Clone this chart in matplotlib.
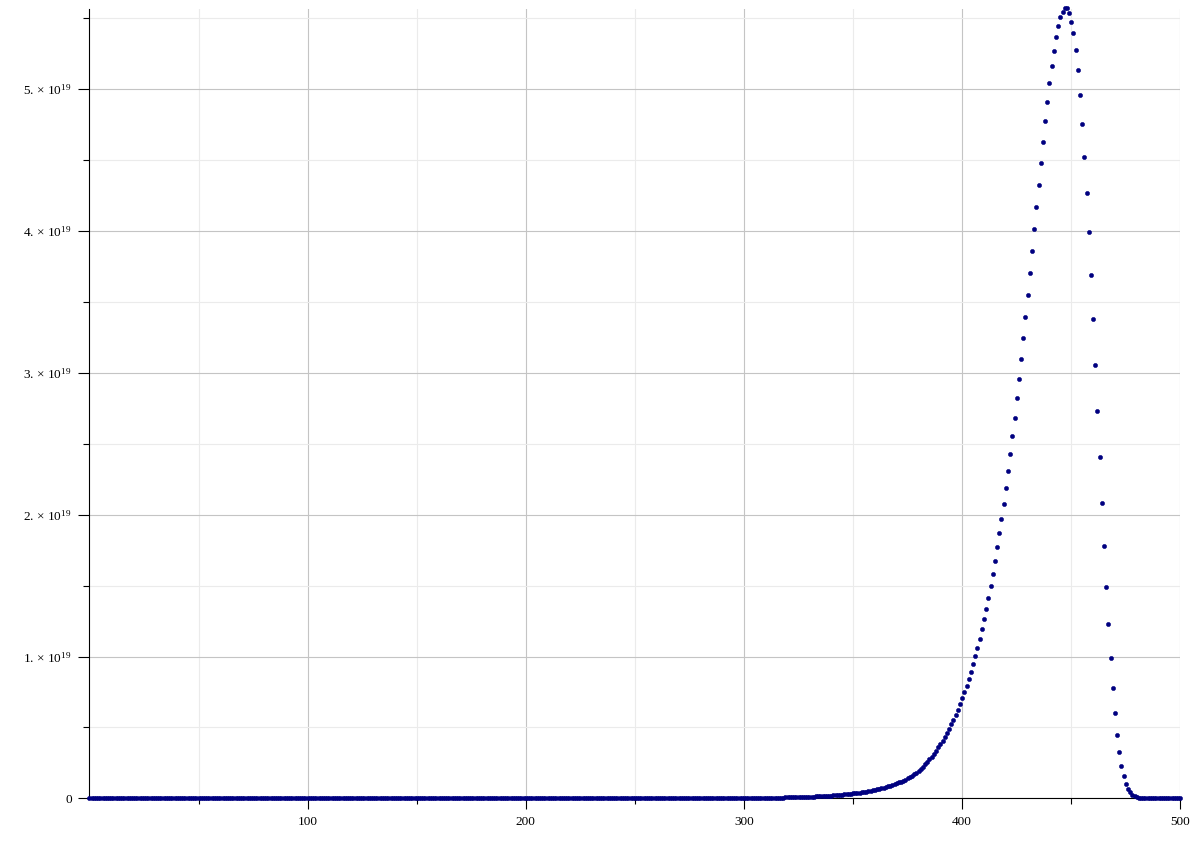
import numpy as np
import matplotlib
matplotlib.use("Agg")
import matplotlib.pyplot as plt

plt.rcParams['font.family'] = ['Liberation Serif', 'DejaVu Serif']
plt.rcParams['mathtext.fontset'] = 'custom'
plt.rcParams['mathtext.rm'] = 'Liberation Serif'
plt.rcParams['mathtext.it'] = 'Liberation Serif:italic'

# ---- data (values in units of 1e19) ----
x_first = 0
zero_count = 290          # x = 0..289 read as zero
tail_values = [
    # 290-299
    0.0012, 0.0012, 0.0013, 0.0014, 0.0014, 0.0015, 0.0016, 0.0017, 0.0018, 0.0019,
    # 300-309
    0.0021, 0.0022, 0.0023, 0.0024, 0.0026, 0.0027, 0.0029, 0.0030, 0.0032, 0.0034,
    # 310-319
    0.0036, 0.0038, 0.0040, 0.0043, 0.0045, 0.0048, 0.0050, 0.0053, 0.0056, 0.0060,
    # 320-329
    0.0063, 0.0067, 0.0071, 0.0075, 0.0079, 0.0084, 0.0089, 0.0094, 0.0099, 0.0105,
    # 330-339
    0.0111, 0.0117, 0.0124, 0.0131, 0.0139, 0.0147, 0.0156, 0.0165, 0.0174, 0.0184,
    # 340-349
    0.0195, 0.0206, 0.0218, 0.0231, 0.0244, 0.0258, 0.0273, 0.0289, 0.0306, 0.0323,
    # 350-359
    0.0342, 0.0362, 0.0383, 0.0405, 0.0429, 0.0454, 0.0480, 0.0508, 0.0537, 0.0568,
    # 360-369
    0.0601, 0.0636, 0.0673, 0.0712, 0.0753, 0.0797, 0.0843, 0.0892, 0.0944, 0.0999,
    # 370-379
    0.1057, 0.1118, 0.1183, 0.1252, 0.1325, 0.1402, 0.1484, 0.1570, 0.1690, 0.1810,
    # 380-389
    0.1950, 0.2090, 0.2230, 0.2400, 0.2580, 0.2750, 0.2930, 0.3150, 0.3360, 0.3600,
    # 390-399
    0.3830, 0.4060, 0.4340, 0.4630, 0.4910, 0.5220, 0.5540, 0.5900, 0.6250, 0.6650,
    # 400-409
    0.7070, 0.7500, 0.7940, 0.8430, 0.8930, 0.9470, 1.0040, 1.0620, 1.1250, 1.1920,
    # 410-419
    1.2640, 1.3370, 1.4150, 1.4950, 1.5800, 1.6720, 1.7700, 1.8690, 1.9700, 2.0780,
    # 420-429
    2.1900, 2.3060, 2.4280, 2.5550, 2.6840, 2.8210, 2.9590, 3.1000, 3.2480, 3.3960,
    # 430-439
    3.5490, 3.7020, 3.8600, 4.0150, 4.1720, 4.3270, 4.4800, 4.6280, 4.7740, 4.9130,
    # 440-449
    5.0420, 5.1620, 5.2700, 5.3670, 5.4440, 5.5080, 5.5470, 5.5710, 5.5710, 5.5360,
    # 450-459
    5.4770, 5.3950, 5.2770, 5.1340, 4.9600, 4.7570, 4.5250, 4.2710, 3.9920, 3.6920,
    # 460-469
    3.3780, 3.0560, 2.7290, 2.4050, 2.0850, 1.7810, 1.4920, 1.2290, 0.9890, 0.7800,
    # 470-479
    0.5990, 0.4490, 0.3270, 0.2300, 0.1570, 0.1030, 0.0680, 0.0420, 0.0250, 0.0140,
    # 480-489
    0.0080, 0.0040, 0.0020, 0.0010, 0.0, 0.0, 0.0, 0.0, 0.0, 0.0,
    # 490-500
    0.0, 0.0, 0.0, 0.0, 0.0, 0.0, 0.0, 0.0, 0.0, 0.0, 0.0,
]
scale = 1e19

x_major_ticks = [100, 200, 300, 400, 500]
x_major_labels = ["100", "200", "300", "400", "500"]
x_minor_ticks = [50, 150, 250, 350, 450]
y_major_ticks = [0, 1, 2, 3, 4, 5]
y_major_labels = ["0", "1. × 10$^{19}$", "2. × 10$^{19}$", "3. × 10$^{19}$",
                  "4. × 10$^{19}$", "5. × 10$^{19}$"]
y_minor_ticks = [0.5, 1.5, 2.5, 3.5, 4.5, 5.5]

values = [0.0] * zero_count + tail_values
x = np.arange(x_first, x_first + len(values))
y = np.array(values) * scale

# ---- figure ----
fig = plt.figure(figsize=(11.96, 8.5), dpi=100)
ax = fig.add_axes([0.0748, 0.0608, 0.9121, 0.9286])

ax.plot(x, y, linestyle='none', marker='o', markersize=3.0,
        color='#000080', markeredgewidth=0.4, markeredgecolor='#000080',
        clip_on=False, zorder=3)

ax.set_xlim(0, 500)
ax.set_ylim(0, 5.566 * scale)

ax.set_xticks(x_major_ticks)
ax.set_xticklabels(x_major_labels)
ax.set_xticks(x_minor_ticks, minor=True)
ax.set_yticks([v * scale for v in y_major_ticks])
ax.set_yticklabels(y_major_labels)
ax.set_yticks([v * scale for v in y_minor_ticks], minor=True)

ax.set_axisbelow(True)
ax.grid(which='major', color='#c4c4c4', linewidth=0.8)
ax.grid(which='minor', color='#ebebeb', linewidth=0.8)

for s in ['top', 'right']:
    ax.spines[s].set_visible(False)
for s in ['left', 'bottom']:
    ax.spines[s].set_color('black')
    ax.spines[s].set_linewidth(0.8)

ax.tick_params(which='major', direction='out', length=7.8, width=0.8,
               labelsize=9.5, pad=5, colors='black')
ax.tick_params(which='minor', direction='out', length=4.3, width=0.8,
               colors='black')

fig.savefig("out.png", dpi=100)
